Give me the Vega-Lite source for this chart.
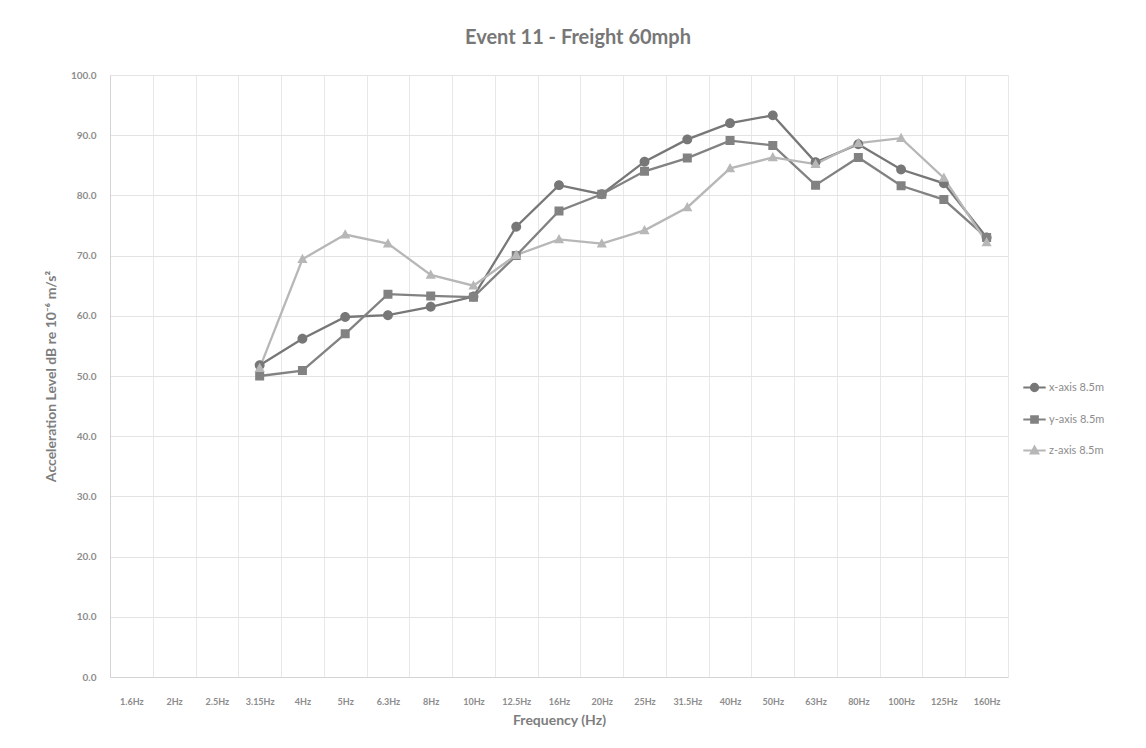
{
  "$schema": "https://vega.github.io/schema/vega-lite/v6.json",
  "width": 898,
  "height": 602,
  "autosize": {"type": "none"},
  "padding": {"left": 110, "top": 75, "right": 138, "bottom": 71},
  "background": "white",
  "config": {"font": "Lato", "view": {"stroke": null}},
  "title": {"text": "Event 11 - Freight 60mph", "fontSize": 20, "fontWeight": "bold", "color": "#777777", "font": "Lato", "anchor": "middle", "offset": 22, "dx": 19},
  "data": {"values": [
    {"freq": "3.15Hz", "series": "x-axis 8.5m", "value": 51.8},
    {"freq": "4Hz", "series": "x-axis 8.5m", "value": 56.2},
    {"freq": "5Hz", "series": "x-axis 8.5m", "value": 59.8},
    {"freq": "6.3Hz", "series": "x-axis 8.5m", "value": 60.1},
    {"freq": "8Hz", "series": "x-axis 8.5m", "value": 61.5},
    {"freq": "10Hz", "series": "x-axis 8.5m", "value": 63.2},
    {"freq": "12.5Hz", "series": "x-axis 8.5m", "value": 74.8},
    {"freq": "16Hz", "series": "x-axis 8.5m", "value": 81.7},
    {"freq": "20Hz", "series": "x-axis 8.5m", "value": 80.2},
    {"freq": "25Hz", "series": "x-axis 8.5m", "value": 85.6},
    {"freq": "31.5Hz", "series": "x-axis 8.5m", "value": 89.3},
    {"freq": "40Hz", "series": "x-axis 8.5m", "value": 92.0},
    {"freq": "50Hz", "series": "x-axis 8.5m", "value": 93.3},
    {"freq": "63Hz", "series": "x-axis 8.5m", "value": 85.5},
    {"freq": "80Hz", "series": "x-axis 8.5m", "value": 88.5},
    {"freq": "100Hz", "series": "x-axis 8.5m", "value": 84.3},
    {"freq": "125Hz", "series": "x-axis 8.5m", "value": 82.0},
    {"freq": "160Hz", "series": "x-axis 8.5m", "value": 73.0},
    {"freq": "3.15Hz", "series": "y-axis 8.5m", "value": 50.0},
    {"freq": "4Hz", "series": "y-axis 8.5m", "value": 50.9},
    {"freq": "5Hz", "series": "y-axis 8.5m", "value": 57.0},
    {"freq": "6.3Hz", "series": "y-axis 8.5m", "value": 63.6},
    {"freq": "8Hz", "series": "y-axis 8.5m", "value": 63.3},
    {"freq": "10Hz", "series": "y-axis 8.5m", "value": 63.1},
    {"freq": "12.5Hz", "series": "y-axis 8.5m", "value": 70.0},
    {"freq": "16Hz", "series": "y-axis 8.5m", "value": 77.4},
    {"freq": "20Hz", "series": "y-axis 8.5m", "value": 80.2},
    {"freq": "25Hz", "series": "y-axis 8.5m", "value": 84.0},
    {"freq": "31.5Hz", "series": "y-axis 8.5m", "value": 86.2},
    {"freq": "40Hz", "series": "y-axis 8.5m", "value": 89.1},
    {"freq": "50Hz", "series": "y-axis 8.5m", "value": 88.3},
    {"freq": "63Hz", "series": "y-axis 8.5m", "value": 81.7},
    {"freq": "80Hz", "series": "y-axis 8.5m", "value": 86.3},
    {"freq": "100Hz", "series": "y-axis 8.5m", "value": 81.6},
    {"freq": "125Hz", "series": "y-axis 8.5m", "value": 79.3},
    {"freq": "160Hz", "series": "y-axis 8.5m", "value": 73.0},
    {"freq": "3.15Hz", "series": "z-axis 8.5m", "value": 51.3},
    {"freq": "4Hz", "series": "z-axis 8.5m", "value": 69.4},
    {"freq": "5Hz", "series": "z-axis 8.5m", "value": 73.5},
    {"freq": "6.3Hz", "series": "z-axis 8.5m", "value": 72.0},
    {"freq": "8Hz", "series": "z-axis 8.5m", "value": 66.8},
    {"freq": "10Hz", "series": "z-axis 8.5m", "value": 65.0},
    {"freq": "12.5Hz", "series": "z-axis 8.5m", "value": 70.1},
    {"freq": "16Hz", "series": "z-axis 8.5m", "value": 72.7},
    {"freq": "20Hz", "series": "z-axis 8.5m", "value": 72.0},
    {"freq": "25Hz", "series": "z-axis 8.5m", "value": 74.2},
    {"freq": "31.5Hz", "series": "z-axis 8.5m", "value": 78.0},
    {"freq": "40Hz", "series": "z-axis 8.5m", "value": 84.5},
    {"freq": "50Hz", "series": "z-axis 8.5m", "value": 86.3},
    {"freq": "63Hz", "series": "z-axis 8.5m", "value": 85.2},
    {"freq": "80Hz", "series": "z-axis 8.5m", "value": 88.7},
    {"freq": "100Hz", "series": "z-axis 8.5m", "value": 89.5},
    {"freq": "125Hz", "series": "z-axis 8.5m", "value": 82.9},
    {"freq": "160Hz", "series": "z-axis 8.5m", "value": 72.2}
  ]},
  "encoding": {
    "x": {
      "field": "freq", "type": "ordinal", "bandPosition": 0.5,
      "scale": {"type": "band", "paddingInner": 0, "paddingOuter": 0,
        "domain": ["1.6Hz","2Hz","2.5Hz","3.15Hz","4Hz","5Hz","6.3Hz","8Hz","10Hz","12.5Hz","16Hz","20Hz","25Hz","31.5Hz","40Hz","50Hz","63Hz","80Hz","100Hz","125Hz","160Hz"]},
      "axis": {"title": "Frequency (Hz)", "titleFontSize": 14, "titleFontWeight": "bold", "titleColor": "#7d7d7d", "titlePadding": 7,
        "labelFontSize": 9, "labelFontWeight": "bold", "labelColor": "#8c8c8c", "labelAngle": 0, "labelPadding": 20, "labelOverlap": false,
        "ticks": false, "tickBand": "extent", "grid": true, "gridColor": "#e8e8e8", "domainColor": "#d4d4d4"}
    },
    "y": {
      "field": "value", "type": "quantitative",
      "scale": {"domain": [0, 100], "nice": false},
      "axis": {"title": "Acceleration Level dB re 10⁻⁶ m/s²", "titleFontSize": 14, "titleFontWeight": "bold", "titleColor": "#7d7d7d", "titlePadding": 12,
        "format": ".1f", "values": [0,10,20,30,40,50,60,70,80,90,100], "labelFontSize": 10, "labelFontWeight": "bold", "labelColor": "#8c8c8c", "labelPadding": 14,
        "ticks": false, "grid": true, "gridColor": "#e3e3e3", "domainColor": "#d4d4d4"}
    },
    "color": {
      "field": "series", "type": "nominal",
      "scale": {"domain": ["x-axis 8.5m", "y-axis 8.5m", "z-axis 8.5m"], "range": ["#777777", "#828282", "#b7b7b7"]},
      "legend": {"orient": "none", "legendX": 912, "legendY": 300, "title": null, "labelFontSize": 11, "labelColor": "#8c8c8c", "symbolSize": 500, "symbolStrokeWidth": 2, "rowPadding": 11, "labelOffset": 2}
    }
  },
  "layer": [
    {"mark": {"type": "line", "strokeWidth": 2.3}},
    {
      "mark": {"type": "point", "filled": true, "opacity": 1, "strokeWidth": 0, "size": 900},
      "encoding": {
        "shape": {"field": "series", "type": "nominal", "scale": {"domain": ["x-axis 8.5m", "y-axis 8.5m", "z-axis 8.5m"],
          "range": ["M-1,0H1M0.33,0A0.33,0.33,0,1,1,-0.33,0A0.33,0.33,0,1,1,0.33,0Z", "M-1,0H1M-0.3,-0.3H0.3V0.3H-0.3Z", "M-1,0H1M0,-0.36L0.34,0.26H-0.34Z"]}},
        "stroke": {"field": "series", "type": "nominal", "scale": {"domain": ["x-axis 8.5m", "y-axis 8.5m", "z-axis 8.5m"], "range": ["#777777", "#828282", "#b7b7b7"]}}
      }
    }
  ]
}
